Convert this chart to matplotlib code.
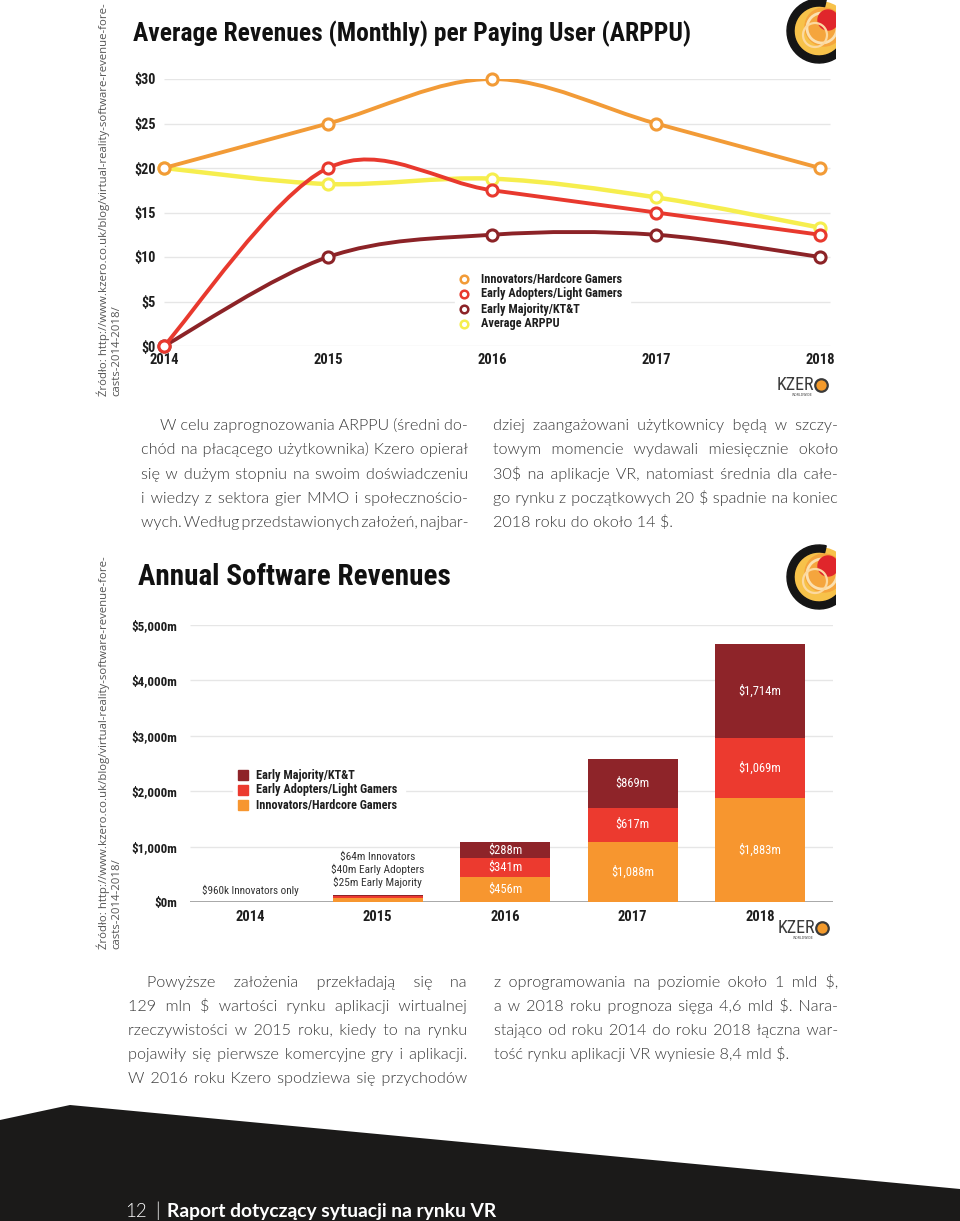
import numpy as np
import matplotlib
matplotlib.use('Agg')
import matplotlib.pyplot as plt
from matplotlib.path import Path
from matplotlib.patches import PathPatch, Polygon, Circle, Wedge, Rectangle

W, H = 960, 1221

# ---- data: monthly ARPPU ($) ----
years = [2014, 2015, 2016, 2017, 2018]
arppu_innovators = [20, 25, 30, 25, 20]
arppu_adopters = [0, 20, 17.5, 15, 12.5]
arppu_majority = [0, 10, 12.5, 12.5, 10]
arppu_average = [20, 18.2, 18.8, 16.7, 13.3]
arppu_ticks = [0, 5, 10, 15, 20, 25, 30]
arppu_ticklabels = ['$0', '$5', '$10', '$15', '$20', '$25', '$30']
arppu_names = ['Innovators/Hardcore Gamers', 'Early Adopters/Light Gamers',
               'Early Majority/KT&T', 'Average ARPPU']

# ---- data: annual software revenues ($m) ----
rev_innovators = [0.96, 64, 456, 1088, 1883]
rev_adopters = [0, 40, 341, 617, 1069]
rev_majority = [0, 25, 288, 869, 1714]
rev_ticks = [0, 1000, 2000, 3000, 4000, 5000]
rev_ticklabels = ['$0m', '$1,000m', '$2,000m', '$3,000m', '$4,000m', '$5,000m']
lab_innovators = ['', '', '$456m', '$1,088m', '$1,883m']
lab_adopters = ['', '', '$341m', '$617m', '$1,069m']
lab_majority = ['', '', '$288m', '$869m', '$1,714m']
notes_2015 = ['$64m Innovators', '$40m Early Adopters', '$25m Early Majority']
note_2014 = '$960k Innovators only'
rev_names = ['Early Majority/KT&T', 'Early Adopters/Light Gamers', 'Innovators/Hardcore Gamers']

# ---- page text ----
src1 = 'Źródło: http://www.kzero.co.uk/blog/virtual-reality-software-revenue-fore-'
src2 = 'casts-2014-2018/'
para1_left = ['W celu zaprognozowania ARPPU (średni do-',
              'chód na płacącego użytkownika) Kzero opierał',
              'się w dużym stopniu na swoim doświadczeniu',
              'i wiedzy z sektora gier MMO i społecznościo-',
              'wych. Według przedstawionych założeń, najbar-']
para1_right = ['dziej zaangażowani użytkownicy będą w szczy-',
               'towym momencie wydawali miesięcznie około',
               '30$ na aplikacje VR, natomiast średnia dla całe-',
               'go rynku z początkowych 20 $ spadnie na koniec',
               '2018 roku do około 14 $.']
para2_left = ['Powyższe założenia przekładają się na',
              '129 mln $ wartości rynku aplikacji wirtualnej',
              'rzeczywistości w 2015 roku, kiedy to na rynku',
              'pojawiły się pierwsze komercyjne gry i aplikacji.',
              'W 2016 roku Kzero spodziewa się przychodów']
para2_right = ['z oprogramowania na poziomie około 1 mld $,',
               'a w 2018 roku prognoza sięga 4,6 mld $. Nara-',
               'stająco od roku 2014 do roku 2018 łączna war-',
               'tość rynku aplikacji VR wyniesie 8,4 mld $.']

plt.rcParams['font.family'] = ['Roboto Condensed', 'DejaVu Sans']
BODY = ['Lato', 'DejaVu Sans']

c_orange = '#f29b37'
c_red = '#e8392e'
c_dark = '#8c2327'
c_yellow = '#f6ee4e'
c_bar_orange = '#f7962f'
c_bar_red = '#ec3a2f'
c_bar_dark = '#8e2429'
c_text = '#1e1e1e'
c_grid = '#e6e6e6'


def px(x0, y0, x1, y1):
    return [x0 / W, 1 - y1 / H, (x1 - x0) / W, (y1 - y0) / H]


def smooth_path(xs, ys):
    # catmull-rom through the data points, drawn as cubic beziers
    p = np.column_stack([xs, ys]).astype(float)
    ext = np.vstack([p[0], p, p[-1]])
    verts = [p[0]]
    codes = [Path.MOVETO]
    for i in range(len(p) - 1):
        a, b, c, d = ext[i], ext[i + 1], ext[i + 2], ext[i + 3]
        verts += [b + (c - a) / 6, c - (d - b) / 6, c]
        codes += [Path.CURVE4] * 3
    return Path(verts, codes)


fig = plt.figure(figsize=(W / 100, H / 100), dpi=100)
ov = fig.add_axes([0, 0, 1, 1], zorder=0)
ov.set_xlim(0, W)
ov.set_ylim(H, 0)
ov.axis('off')
R = fig.canvas.get_renderer()
PX = ov.transData  # page pixel coordinates


def width(s, **kw):
    t = ov.text(0, 0, s, **kw)
    v = t.get_window_extent(R).width
    t.remove()
    return v


def fit(t, target):
    # scale font so the text spans target pixels
    bb = t.get_window_extent(R)
    t.set_fontsize(t.get_fontsize() * target / max(bb.width, bb.height))
    return t


def corner_logo(cy):
    clip = Rectangle((770, cy - 40), 66, 80, transform=PX)
    parts = [
        Circle((821, cy - 1), 28, color='#f7c24a'),
        Circle((824, cy - 4), 19, color='#f5a53d'),
        Circle((822, cy - 3), 15, fill=False, lw=2, ec='#fbe0b0'),
        Circle((828, cy - 11), 10, color='#e0262b'),
        Circle((815, cy + 4), 12, fill=False, lw=1.6, ec='#fcd9a0'),
        Wedge((819, cy), 32, 40, 283, width=7, color='#151515'),
    ]
    for p in parts:
        ov.add_patch(p)
        p.set_clip_path(clip)


def kzero(x, y):
    t = ov.text(x, y, 'KZER', ha='left', va='center', fontsize=13, color='#3a3a3a')
    w = t.get_window_extent(R).width
    ov.plot([x + w + 6], [y], 'o', ms=9, mfc='#f39a2c', mec='#3a3a3a', mew=1.6)
    ov.text(x + 25, y + 10, 'WORLDWIDE', ha='center', va='center', fontsize=3, color='#555555')


BODY_KW = dict(family=BODY, fontweight=300, fontsize=11.6, color='#383838')
_base = width('ii', **BODY_KW)
_gaps = []
for _b in (' ', '\u2009'):
    _bw = width('i' + _b + 'i', **BODY_KW) - _base
    _hw = width('i' + _b + '\u200a' * 8 + 'i', **BODY_KW) - _base - _bw
    for k in range(16):
        _gaps.append((_b + '\u200a' * k, _bw + k * _hw / 8))


def para(lines, x0, x1, y0, dy, indent=0, last_full=True):
    # justified lines, each drawn as one text (gaps padded with hair spaces)
    for i, line in enumerate(lines):
        y = y0 + i * dy
        xs = x0 + (indent if i == 0 else 0)
        if i == len(lines) - 1 and not last_full:
            ov.text(xs, y, line, va='baseline', ha='left', **BODY_KW)
            continue
        words = line.split(' ')
        ws = [width(w, **BODY_KW) for w in words]
        ideal = (x1 - xs - sum(ws)) / (len(words) - 1)
        out = words[0]
        done = 0.0
        for j, w in enumerate(words[1:], start=1):
            want = j * ideal - done
            s, gw = min(_gaps, key=lambda g: abs(g[1] - want))
            done += gw
            out += s + w
        ov.text(xs, y, out, va='baseline', ha='left', **BODY_KW)


# ---- source notes (rotated) ----
src = dict(family=['Open Sans', 'DejaVu Sans'], fontsize=8, color='#555555',
           rotation=90, rotation_mode='anchor', ha='left', va='center')
for base in (396, 949):
    t = fit(ov.text(103, base, src1, **src), 393)
    ov.text(117, base, src2, **dict(src, fontsize=t.get_fontsize()))

# ---- chart 1: ARPPU lines ----
ax1 = fig.add_axes(px(160, 79, 834, 346), zorder=2)
ax1.patch.set_alpha(0)
ax1.set_xlim(2014 - 4 / 164, 2018 + 14 / 164)
ax1.set_ylim(0, 30)
for s in ax1.spines.values():
    s.set_visible(False)
ax1.hlines(arppu_ticks, 2014, 2018.06, color=c_grid, lw=1, zorder=0)
ax1.set_yticks(arppu_ticks, arppu_ticklabels)
ax1.set_xticks(years, [str(y) for y in years])
ax1.tick_params(length=0, labelsize=10.2, labelcolor=c_text)
ax1.tick_params(axis='y', pad=3)
ax1.tick_params(axis='x', pad=5, labelsize=10.5)
for lab in ax1.get_xticklabels() + ax1.get_yticklabels():
    lab.set_fontweight('bold')

series1 = [(arppu_average, c_yellow), (arppu_majority, c_dark),
           (arppu_adopters, c_red), (arppu_innovators, c_orange)]
for k, (vals, col) in enumerate(series1):
    ax1.add_patch(PathPatch(smooth_path(years, vals), fill=False, ec=col,
                            lw=3.2 if col == c_yellow else 2.8,
                            zorder=2 + k, capstyle='round'))
    ax1.plot(years, vals, 'o', ms=8, mfc='white', mec=col, mew=2.2, zorder=2.5 + k,
             clip_on=False)

fit(ov.text(133, 34, 'Average Revenues (Monthly) per Paying User (ARPPU)', ha='left',
            va='center', fontsize=20, fontweight='bold', color='#111111'), 555)

# legend (white box hides the gridline behind it)
ax1.add_patch(Rectangle((455, 270), 175, 62, transform=PX, color='white', zorder=1))
for i, (name, col) in enumerate(zip(arppu_names, [c_orange, c_red, c_dark, c_yellow])):
    yy = 279 + 15 * i
    ax1.plot([464], [yy], 'o', ms=5.5, mfc='white', mec=col, mew=1.8, transform=PX,
             zorder=10, clip_on=False)
    ax1.text(481, yy, name, ha='left', va='center', fontsize=8.8, fontweight='bold',
             color=c_text, transform=PX, zorder=10)
corner_logo(31)
kzero(777, 385)

# ---- paragraph 1 ----
para(para1_left, 141, 468, 430, 24.3, indent=19)
para(para1_right, 493, 838, 430, 24.3, last_full=False)

# ---- chart 2: stacked revenues ----
ax2 = fig.add_axes(px(190, 625, 833, 902), zorder=2)
ax2.patch.set_alpha(0)
idx = np.arange(len(years))
ax2.set_xlim(-60 / 127.5, 4 + 73 / 127.5)
ax2.set_ylim(0, 5000)
for s in ax2.spines.values():
    s.set_visible(False)
ax2.hlines(rev_ticks[1:], ax2.get_xlim()[0], ax2.get_xlim()[1], color=c_grid, lw=1, zorder=0)
ax2.axhline(0, color='#9a9a9a', lw=1.2, zorder=1)
ax2.set_yticks(rev_ticks, rev_ticklabels)
ax2.set_xticks(idx, [str(y) for y in years])
ax2.tick_params(length=0, labelsize=9.4, labelcolor=c_text)
ax2.tick_params(axis='y', pad=9)
ax2.tick_params(axis='x', pad=6, labelsize=10.5)
for lab in ax2.get_xticklabels() + ax2.get_yticklabels():
    lab.set_fontweight('bold')

bw = 90 / 127.5
b_inn = np.array(rev_innovators)
b_ad = np.array(rev_adopters)
b_maj = np.array(rev_majority)
ax2.bar(idx, b_inn, bw, color=c_bar_orange, zorder=2)
ax2.bar(idx, b_ad, bw, bottom=b_inn, color=c_bar_red, zorder=2)
ax2.bar(idx, b_maj, bw, bottom=b_inn + b_ad, color=c_bar_dark, zorder=2)
for i in idx:
    for lab, base, h in [(lab_innovators[i], 0, b_inn[i]),
                         (lab_adopters[i], b_inn[i], b_ad[i]),
                         (lab_majority[i], b_inn[i] + b_ad[i], b_maj[i])]:
        if lab:
            ax2.text(i, base + h / 2, lab, ha='center', va='center', fontsize=9,
                     color='white', zorder=3)
top15 = b_inn[1] + b_ad[1] + b_maj[1]
for j, note in enumerate(notes_2015):
    ax2.annotate(note, (1, top15), xytext=(0, 27 - 9 * j), textcoords='offset points',
                 ha='center', va='center', fontsize=8.2, color='#333333')
ax2.annotate(note_2014, (0, b_inn[0]), xytext=(0, 8), textcoords='offset points',
             ha='center', va='center', fontsize=8, color='#333333')

fit(ov.text(138, 577, 'Annual Software Revenues', ha='left', va='center', fontsize=20,
            fontweight='bold', color='#111111'), 312)

ax2.add_patch(Rectangle((233, 766), 172, 48, transform=PX, color='white', zorder=1))
for i, (name, col) in enumerate(zip(rev_names, [c_bar_dark, c_bar_red, c_bar_orange])):
    yy = 775 + 15 * i
    ax2.add_patch(Rectangle((238, yy - 5), 10, 10, color=col, transform=PX, zorder=10))
    ax2.text(256, yy, name, ha='left', va='center', fontsize=8.8, fontweight='bold',
             color=c_text, transform=PX, zorder=10)
corner_logo(577)
kzero(778, 928)

# ---- paragraph 2 ----
para(para2_left, 128, 467, 987, 24.1, indent=19)
para(para2_right, 494, 838, 987, 24.1, last_full=False)

# ---- footer ----
ov.add_patch(Polygon([(0, 1120), (70, 1105), (960, 1189), (960, 1221), (0, 1221)],
                     closed=True, color='#1b1a19', lw=0))
ov.text(125, 1217, '12', family=BODY, fontweight=300, fontsize=13.5,
        color='white', va='baseline')
ov.text(155, 1217, '|', family=BODY, fontweight=300, fontsize=13.5,
        color='white', va='baseline')
fit(ov.text(167, 1217, 'Raport dotyczący sytuacji na rynku VR', family=BODY,
            fontweight='bold', fontsize=13.5, color='white', va='baseline'), 330)

fig.savefig('out.png', dpi=100)
